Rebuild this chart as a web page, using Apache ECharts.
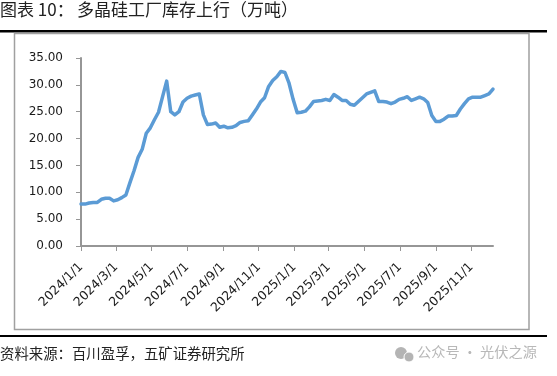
<!DOCTYPE html>
<html>
<head>
<meta charset="utf-8">
<style>
  html, body { margin: 0; padding: 0; background: #fff; }
  #chart { width: 557px; height: 376px; }
</style>
</head>
<body>
<div id="chart"></div>
<script src="https://cdn.jsdelivr.net/npm/echarts@6/dist/echarts.min.js"></script>
<script>
const titleLabel = '图表 10：'
const titleText = '多晶硅工厂库存上行（万吨）'
const sourceText = '资料来源：百川盈孚，五矿证券研究所'
const watermarkText = '公众号 · 光伏之源'

const tickDates = ['2024/1/1', '2024/3/1', '2024/5/1', '2024/7/1', '2024/9/1', '2024/11/1',
  '2025/1/1', '2025/3/1', '2025/5/1', '2025/7/1', '2025/9/1', '2025/11/1']

const weeks = [
  '2024/1/1', '2024/1/8', '2024/1/15', '2024/1/22', '2024/1/29', '2024/2/5', '2024/2/12', '2024/2/19', '2024/2/26',
  '2024/3/4', '2024/3/11', '2024/3/18', '2024/3/25', '2024/4/1', '2024/4/8', '2024/4/15', '2024/4/22', '2024/4/29',
  '2024/5/6', '2024/5/13', '2024/5/20', '2024/5/27', '2024/6/3', '2024/6/10', '2024/6/17', '2024/6/24',
  '2024/7/1', '2024/7/8', '2024/7/15', '2024/7/22', '2024/7/29', '2024/8/5', '2024/8/12', '2024/8/19', '2024/8/26',
  '2024/9/2', '2024/9/9', '2024/9/16', '2024/9/23', '2024/9/30', '2024/10/7', '2024/10/14', '2024/10/21', '2024/10/28',
  '2024/11/4', '2024/11/11', '2024/11/18', '2024/11/25', '2024/12/2', '2024/12/9', '2024/12/16', '2024/12/23', '2024/12/30',
  '2025/1/6', '2025/1/13', '2025/1/20', '2025/1/27', '2025/2/3', '2025/2/10', '2025/2/17', '2025/2/24',
  '2025/3/3', '2025/3/10', '2025/3/17', '2025/3/24', '2025/3/31', '2025/4/7', '2025/4/14', '2025/4/21', '2025/4/28',
  '2025/5/5', '2025/5/12', '2025/5/19', '2025/5/26', '2025/6/2', '2025/6/9', '2025/6/16', '2025/6/23', '2025/6/30',
  '2025/7/7', '2025/7/14', '2025/7/21', '2025/7/28', '2025/8/4', '2025/8/11', '2025/8/18', '2025/8/25',
  '2025/9/1', '2025/9/8', '2025/9/15', '2025/9/22', '2025/9/29', '2025/10/6', '2025/10/13', '2025/10/20', '2025/10/27',
  '2025/11/3', '2025/11/10', '2025/11/17', '2025/11/24', '2025/12/1', '2025/12/8'
]

const stock = [
  7.8, 7.8, 8.0, 8.1, 8.1, 8.7, 8.9, 8.9, 8.4,
  8.6, 9.0, 9.5, 11.8, 14.0, 16.5, 18.0, 21.0, 22.0,
  23.5, 24.9, 27.8, 30.7, 25.0, 24.4, 25.0, 26.8,
  27.5, 27.9, 28.1, 28.3, 24.4, 22.6, 22.7, 22.9, 22.1,
  22.3, 22.0, 22.1, 22.4, 23.0, 23.2, 23.3, 24.4, 25.5,
  26.8, 27.6, 29.7, 30.8, 31.5, 32.5, 32.3, 30.3, 27.3,
  24.8, 24.9, 25.1, 25.9, 26.9, 27.0, 27.1, 27.3,
  27.1, 28.2, 27.7, 27.1, 27.1, 26.4, 26.2, 26.9, 27.6,
  28.3, 28.6, 28.9, 26.9, 26.9, 26.8, 26.5, 26.8, 27.3,
  27.5, 27.8, 27.1, 27.4, 27.7, 27.4, 26.7, 24.3,
  23.2, 23.2, 23.6, 24.2, 24.2, 24.3, 25.5, 26.5, 27.4,
  27.7, 27.7, 27.7, 28.0, 28.3, 29.2
]

const ts = s => new Date(s).getTime()
const chart = echarts.init(document.getElementById('chart'), null, { renderer: 'canvas' })

// value axis on timestamps: custom ticks crash on a time axis here
chart.setOption({
  animation: false,
  backgroundColor: '#fff',
  grid: { left: 81, right: 64, top: 58, bottom: 130 },
  xAxis: {
    type: 'value',
    min: ts(weeks[0]),
    max: ts(weeks[weeks.length - 1]),
    splitLine: { show: false },
    axisLine: { onZero: false, lineStyle: { color: '#969696', width: 2 } },
    axisTick: { show: true, length: 5, lineStyle: { color: '#969696', width: 1 }, customValues: tickDates.map(ts) },
    axisLabel: {
      rotate: 45,
      color: '#1a1a1a',
      fontFamily: 'DejaVu Sans',
      fontSize: 12.5,
      margin: 19,
      hideOverlap: false,
      customValues: tickDates.map(ts),
      formatter: v => {
        const d = new Date(v)
        return d.getFullYear() + '/' + (d.getMonth() + 1) + '/' + d.getDate()
      }
    }
  },
  yAxis: {
    type: 'value',
    min: 0,
    max: 35,
    interval: 5,
    splitLine: { show: false },
    axisLine: { show: true, lineStyle: { color: '#969696', width: 2 } },
    axisTick: { show: true, length: 5, lineStyle: { color: '#969696', width: 1 } },
    axisLabel: {
      color: '#1a1a1a',
      fontFamily: 'DejaVu Sans',
      fontSize: 12,
      margin: 18,
      padding: [2, 0, 0, 0],
      formatter: v => v.toFixed(2)
    }
  },
  series: [{
    type: 'line',
    data: weeks.map((w, i) => [ts(w), stock[i]]),
    showSymbol: false,
    smooth: false,
    lineStyle: { color: '#5b9bd5', width: 3.5, cap: 'round', join: 'round' }
  }],
  graphic: [
    { type: 'text', left: 0, top: 1, style: { text: titleLabel, font: '17px "Noto Sans CJK SC"', fill: '#222' } },
    { type: 'text', left: 77, top: 1, style: { text: titleText, font: '17px "Noto Sans CJK SC"', fill: '#222' } },
    { type: 'rect', shape: { x: 0, y: 30, width: 547, height: 2.5 }, style: { fill: '#000' } },
    { type: 'rect', shape: { x: 14.5, y: 33.5, width: 514.5, height: 296 }, style: { fill: 'none', stroke: '#a0a0a0', lineWidth: 1.5 } },
    { type: 'rect', shape: { x: 0, y: 335, width: 547, height: 2 }, style: { fill: '#000' } },
    { type: 'text', left: 0, top: 346, style: { text: sourceText, font: '14.4px "Noto Sans CJK SC"', fill: '#222' } },
    { type: 'circle', shape: { cx: 401, cy: 353, r: 6 }, style: { fill: '#b4b4b4' } },
    { type: 'circle', shape: { cx: 409, cy: 357, r: 5 }, style: { fill: '#b4b4b4', stroke: '#fff', lineWidth: 1 } },
    { type: 'text', left: 417, top: 345, style: { text: watermarkText, font: '14.2px "Noto Sans CJK SC"', fill: '#b8b8b8' } }
  ]
})
</script>
</body>
</html>
